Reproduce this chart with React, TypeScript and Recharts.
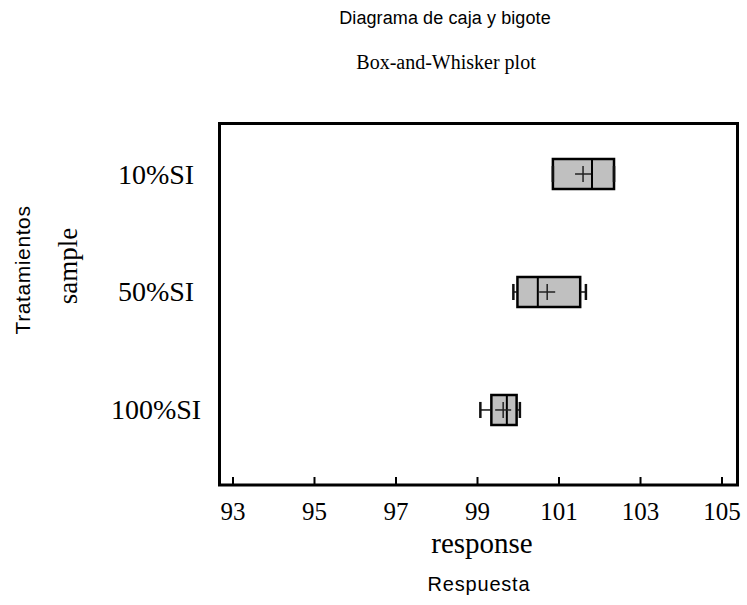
import React from "react";
import {
  ReferenceArea,
  ReferenceLine,
  Scatter,
  ScatterChart,
  XAxis,
  YAxis,
} from "recharts";

const CATEGORIES = ["10%SI", "50%SI", "100%SI"];
const POSITIONS = [3, 2, 1];
const MIN = [100.85, 99.88, 99.07];
const Q1 = [100.85, 99.98, 99.34];
const MEDIAN = [101.81, 100.48, 99.72];
const MEAN = [101.59, 100.71, 99.63];
const Q3 = [102.35, 101.52, 99.96];
const MAX = [102.35, 101.66, 100.04];
const X_TICKS = [93, 95, 97, 99, 101, 103, 105];

const X_DOMAIN: [number, number] = [92.669, 105.38];
const Y_DOMAIN: [number, number] = [0.364, 3.428];
const BOX_HALF = 0.127;
const CAP_HALF = 0.068;

const SERIF = '"Liberation Serif", "Times New Roman", serif';
const SANS = '"Liberation Sans", Arial, sans-serif';

const meanPoints = MEAN.map((m, i) => ({ x: m, y: POSITIONS[i] }));

function CategoryTick({ x, y, payload }: any) {
  const idx = POSITIONS.indexOf(payload.value);
  return (
    <text
      x={x - 63.5}
      y={y}
      dy="0.34em"
      textAnchor="middle"
      fontFamily={SERIF}
      fontSize={28}
      fill="#000"
    >
      {CATEGORIES[idx]}
    </text>
  );
}

function MeanPlus({ cx, cy }: any) {
  return (
    <g stroke="#222" strokeWidth={1.5}>
      <line x1={cx - 8} y1={cy} x2={cx + 8} y2={cy} />
      <line x1={cx} y1={cy - 8} x2={cx} y2={cy + 8} />
    </g>
  );
}

function Caption({
  text,
  cx,
  cy,
  size,
  family,
  spacing = 0,
  vertical = false,
}: {
  text: string;
  cx: number;
  cy: number;
  size: number;
  family: string;
  spacing?: number;
  vertical?: boolean;
}) {
  return (
    <div
      style={{
        position: "absolute",
        left: cx,
        top: cy,
        transform: `translate(-50%, -50%)${vertical ? " rotate(-90deg)" : ""}`,
        fontFamily: family,
        fontSize: size,
        letterSpacing: spacing,
        lineHeight: 1,
        whiteSpace: "nowrap",
        color: "#000",
      }}
    >
      {text}
    </div>
  );
}

export default function App() {
  return (
    <div
      style={{
        position: "absolute",
        left: 0,
        top: 0,
        width: 747,
        height: 605,
        background: "#fff",
      }}
    >
      <ScatterChart
        width={747}
        height={605}
        margin={{ top: 123.5, right: 9.5, bottom: 0, left: 0 }}
      >
        <XAxis
          type="number"
          dataKey="x"
          domain={X_DOMAIN}
          allowDataOverflow
          ticks={X_TICKS}
          interval={0}
          height={120}
          axisLine={false}
          tickSize={-8}
          tickMargin={25}
          tickLine={{ stroke: "#000", strokeWidth: 2 }}
          tick={{ fill: "#000", fontSize: 25, fontFamily: SERIF }}
        />
        <YAxis
          type="number"
          dataKey="y"
          domain={Y_DOMAIN}
          allowDataOverflow
          ticks={POSITIONS}
          interval={0}
          width={219.5}
          axisLine={false}
          tickLine={false}
          tickSize={0}
          tickMargin={0}
          tick={<CategoryTick />}
        />
        <ReferenceArea
          x1={X_DOMAIN[0]}
          x2={X_DOMAIN[1]}
          y1={Y_DOMAIN[0]}
          y2={Y_DOMAIN[1]}
          fill="none"
          stroke="#000"
          strokeWidth={3}
          ifOverflow="visible"
        />
        {POSITIONS.map((p, i) => (
          <React.Fragment key={CATEGORIES[i]}>
            <ReferenceLine
              segment={[{ x: MIN[i], y: p }, { x: Q1[i], y: p }]}
              stroke="#111"
              strokeWidth={1.5}
            />
            <ReferenceLine
              segment={[{ x: Q3[i], y: p }, { x: MAX[i], y: p }]}
              stroke="#111"
              strokeWidth={1.5}
            />
            <ReferenceLine
              segment={[
                { x: MIN[i], y: p - CAP_HALF },
                { x: MIN[i], y: p + CAP_HALF },
              ]}
              stroke="#111"
              strokeWidth={2.5}
            />
            <ReferenceLine
              segment={[
                { x: MAX[i], y: p - CAP_HALF },
                { x: MAX[i], y: p + CAP_HALF },
              ]}
              stroke="#111"
              strokeWidth={2.5}
            />
            <ReferenceArea
              x1={Q1[i]}
              x2={Q3[i]}
              y1={p - BOX_HALF}
              y2={p + BOX_HALF}
              fill="#c0c0c0"
              fillOpacity={1}
              stroke="#000"
              strokeWidth={2.5}
            />
            <ReferenceLine
              segment={[
                { x: MEDIAN[i], y: p - BOX_HALF },
                { x: MEDIAN[i], y: p + BOX_HALF },
              ]}
              stroke="#000"
              strokeWidth={2}
            />
          </React.Fragment>
        ))}
        <Scatter data={meanPoints} shape={<MeanPlus />} isAnimationActive={false} />
      </ScatterChart>

      <Caption text="Diagrama de caja y bigote" cx={445} cy={18} size={18} family={SANS} spacing={0.1} />
      <Caption text="Box-and-Whisker plot" cx={446} cy={62} size={20} family={SERIF} />
      <Caption text="response" cx={482} cy={543} size={29} family={SERIF} />
      <Caption text="Respuesta" cx={479} cy={584} size={20} family={SANS} spacing={0.8} />
      <Caption text="Tratamientos" cx={22} cy={270} size={21} family={SANS} spacing={0.6} vertical />
      <Caption text="sample" cx={68} cy={266} size={27} family={SERIF} vertical />
    </div>
  );
}
